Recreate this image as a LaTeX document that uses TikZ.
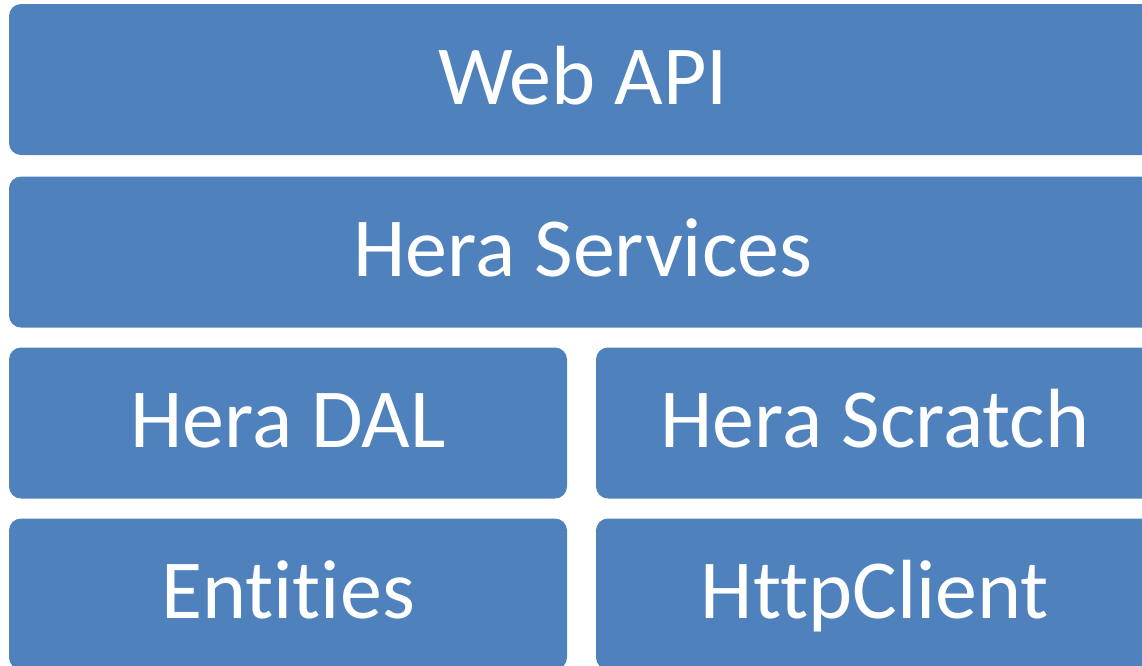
\documentclass[tikz,border=0pt]{standalone}
\usepackage{fontspec}
\setmainfont[Ligatures=NoCommon, RawFeature={-liga;-dlig}]{Carlito}
\definecolor{layerblue}{HTML}{4F81BD}

\begin{document}
\begin{tikzpicture}[x=1pt, y=-1pt,
  layer/.style={fill=layerblue, rounded corners=12pt, inner sep=0pt,
    text=white, font=\fontsize{84}{90}\selectfont,
    text height=58pt, text depth=9pt, minimum height=151pt},
  wide/.style={layer, minimum width=1148pt},
  half/.style={layer, minimum width=558pt}]

% Frame
\useasboundingbox (0,0) rectangle (1142,665);
\clip (0,0) rectangle (1142,665);

% Top layers
\node[wide] (webapi) at (583,79.5) {Web API};
\node[wide] (services) at (583,252) {Hera Services};

% Data access and scratch
\node[half] (dal) at (288,423) {Hera DAL};
\node[half] (scratch) at (875,423) {Hera Scratch};

% Bottom layer
\node[half] (entities) at (288,594) {Entities};
\node[half] (httpclient) at (875,594) {HttpClient};

\end{tikzpicture}
\end{document}
